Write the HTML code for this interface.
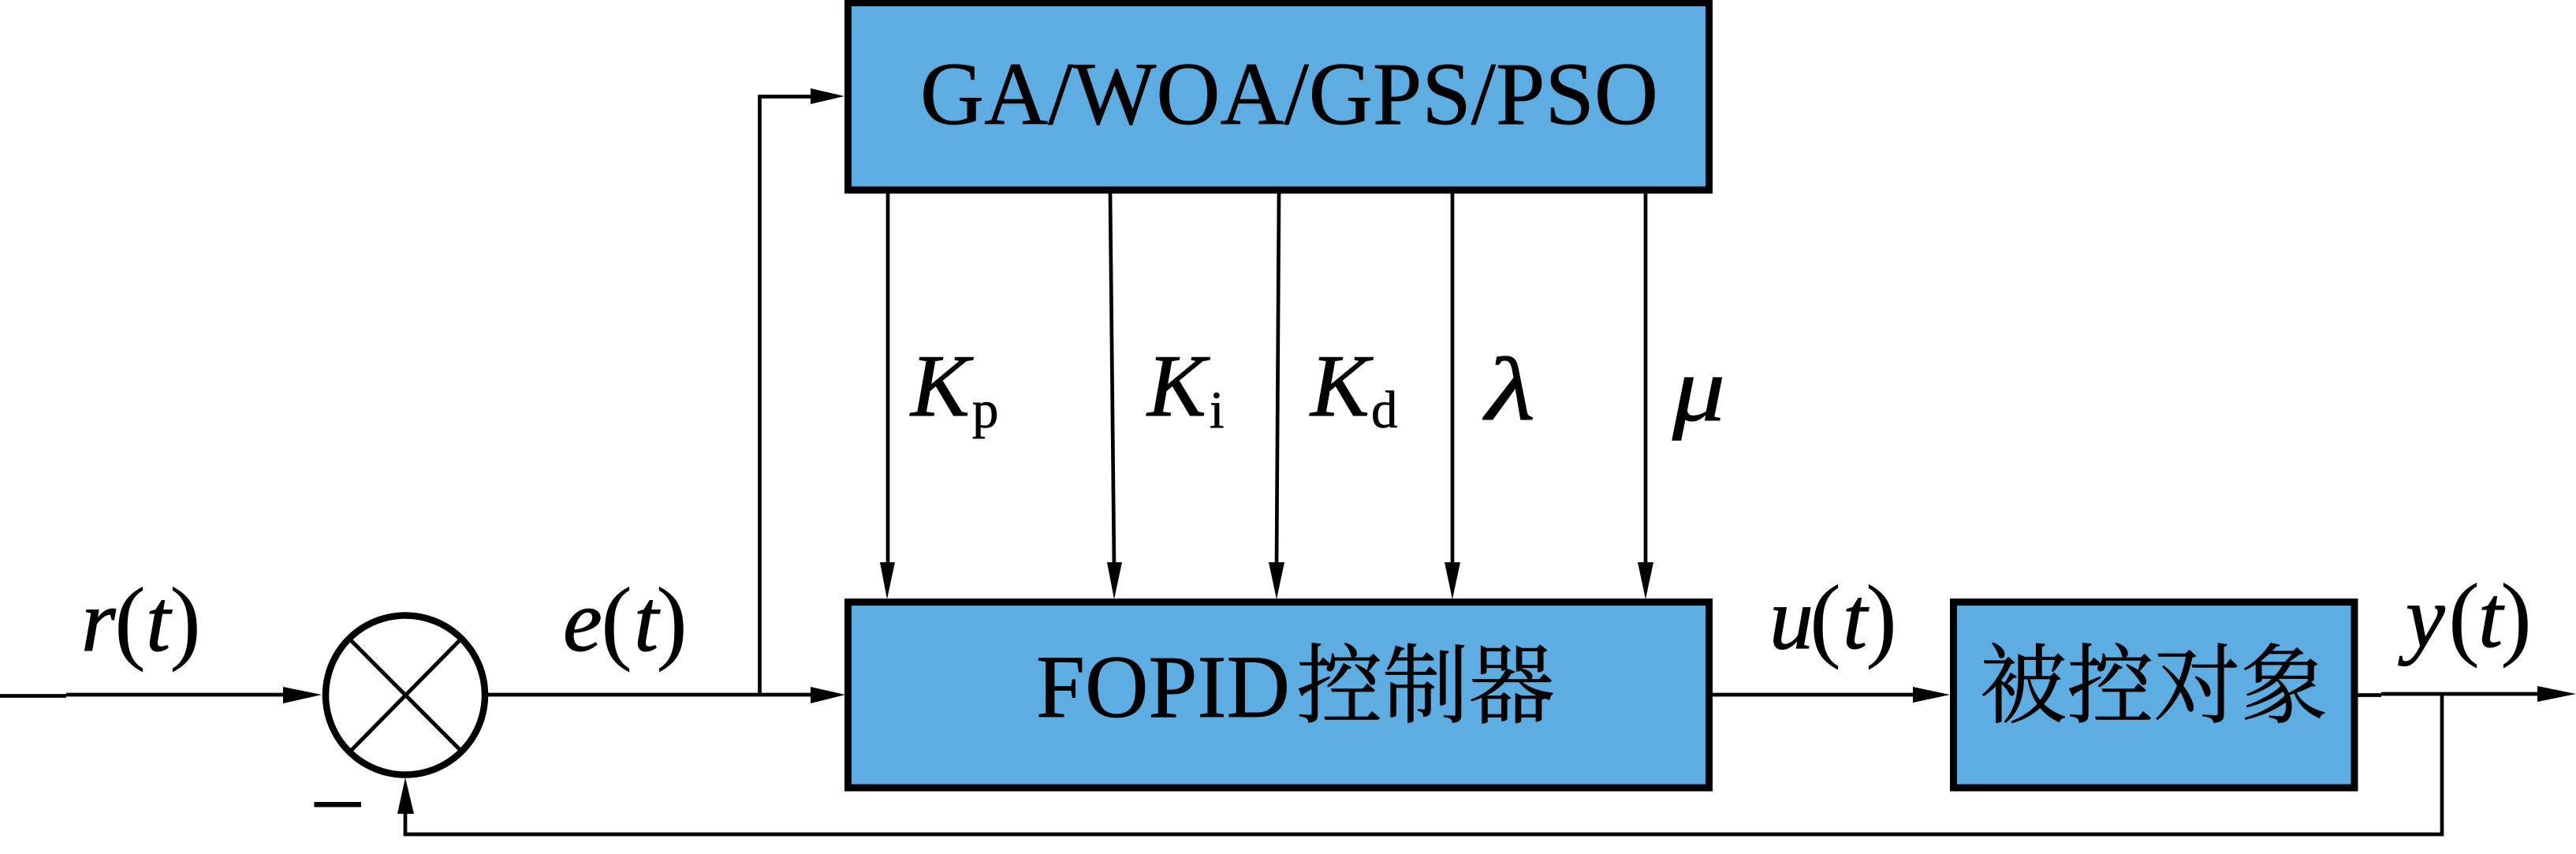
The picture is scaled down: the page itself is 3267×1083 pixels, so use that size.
<!DOCTYPE html>
<html lang="zh"><head><meta charset="utf-8"><style>
html,body{margin:0;padding:0;background:#fff;width:3267px;height:1083px;overflow:hidden}
svg{display:block}
text{font-family:"Liberation Serif","Noto Serif CJK SC",serif;fill:#000;stroke:#000;stroke-width:.7}
.i{font-style:italic;font-size:112px;stroke-width:1}
.p{font-size:120px;stroke-width:0}
.s{font-size:67px}
.c{stroke-width:.8}
</style></head><body>
<svg width="3267" height="1083" viewBox="0 0 3267 1083" xmlns="http://www.w3.org/2000/svg">
<rect width="3267" height="1083" fill="#fff"/>
<!-- boxes -->
<rect x="1075.5" y="3.5" width="1092" height="237.5" fill="#5DADE2" stroke="#000" stroke-width="9"/>
<rect x="1075.5" y="763.5" width="1092" height="235.5" fill="#5DADE2" stroke="#000" stroke-width="9"/>
<rect x="2477.5" y="763.5" width="508.5" height="235.5" fill="#5DADE2" stroke="#000" stroke-width="9"/>
<!-- summing junction -->
<circle cx="514" cy="881.5" r="101" fill="#fff" stroke="#000" stroke-width="8.5"/>
<g stroke="#000" stroke-width="5" fill="none">
<line x1="443.5" y1="810.5" x2="584" y2="951.5"/>
<line x1="584" y1="811" x2="445.5" y2="951.5"/>
</g>
<!-- connectors -->
<g stroke="#000" fill="none" stroke-width="4.7">
<line x1="0" y1="882.5" x2="84" y2="882.5"/>
<line x1="84" y1="881" x2="370" y2="881"/>
<line x1="619" y1="881" x2="1040" y2="881"/>
<polyline points="963.5,881 963.5,122.5 1040,122.5"/>
<line x1="2172" y1="881" x2="2435" y2="881"/>
<line x1="2990" y1="881.5" x2="3020" y2="881.5"/>
<line x1="3020" y1="880" x2="3230" y2="880"/>
<polyline points="3097,880 3097,1058 514,1058 514,1020"/>
<line x1="1126" y1="245" x2="1126" y2="720"/>
<line x1="1408" y1="245" x2="1413" y2="720"/>
<line x1="1622" y1="245" x2="1619" y2="720"/>
<line x1="1842" y1="245" x2="1842" y2="720"/>
<line x1="2087" y1="245" x2="2087" y2="720"/>
</g>
<!-- arrowheads -->
<g fill="#000">
<polygon points="359,871 408,881 359,892"/>
<polygon points="1028,871 1072,881 1028,892"/>
<polygon points="1028,112 1071,122 1028,132"/>
<polygon points="2426,871 2473,881 2426,891"/>
<polygon points="3218,870 3267,880 3218,890"/>
<polygon points="504,1032 514,986 525,1032"/>
<polygon points="1116,713 1135,713 1125,760"/>
<polygon points="1404,713 1423,713 1413,760"/>
<polygon points="1609,713 1629,713 1619,760"/>
<polygon points="1832,713 1852,713 1842,760"/>
<polygon points="2077,713 2097,713 2087,760"/>
<rect x="398.5" y="1017" width="59.5" height="6.5"/>
</g>
<!-- box labels -->
<text x="1167" y="157" font-size="113" textLength="936" lengthAdjust="spacingAndGlyphs">GA/WOA/GPS/PSO</text>
<text x="1314" y="909" font-size="113" textLength="322" lengthAdjust="spacingAndGlyphs">FOPID</text>
<text class="c" x="1644" y="908" font-size="110" textLength="328" lengthAdjust="spacingAndGlyphs">控制器</text>
<text class="c" x="2511" y="908" font-size="110" textLength="441" lengthAdjust="spacingAndGlyphs">被控对象</text>
<!-- signals -->
<text class="i" x="103" y="825">r</text><text class="p" x="145" y="827">(</text><text class="i" x="185" y="825">t</text><text class="p" x="215" y="827">)</text>
<text class="i" x="714" y="825">e</text><text class="p" x="762" y="827">(</text><text class="i" x="804" y="825">t</text><text class="p" x="832" y="827">)</text>
<text class="i" x="2244" y="822">u</text><text class="p" x="2295" y="824">(</text><text class="i" x="2337" y="822">t</text><text class="p" x="2366" y="824">)</text>
<text class="i" x="3051" y="820">y</text><text class="p" x="3105" y="822">(</text><text class="i" x="3143" y="820">t</text><text class="p" x="3171" y="822">)</text>
<!-- gains -->
<text class="i" x="1155" y="527">K</text>
<text class="s" x="1233" y="542">p</text>
<text class="i" x="1455" y="527">K</text>
<text class="s" x="1534" y="542">i</text>
<text class="i" x="1662" y="527">K</text>
<text class="s" x="1739" y="542">d</text>
<text class="i" x="1884" y="532" style="font-size:114px" textLength="63" lengthAdjust="spacingAndGlyphs">λ</text>
<text class="i" x="2121" y="533" style="font-size:118px" textLength="67" lengthAdjust="spacingAndGlyphs">μ</text>
</svg>
</body></html>
